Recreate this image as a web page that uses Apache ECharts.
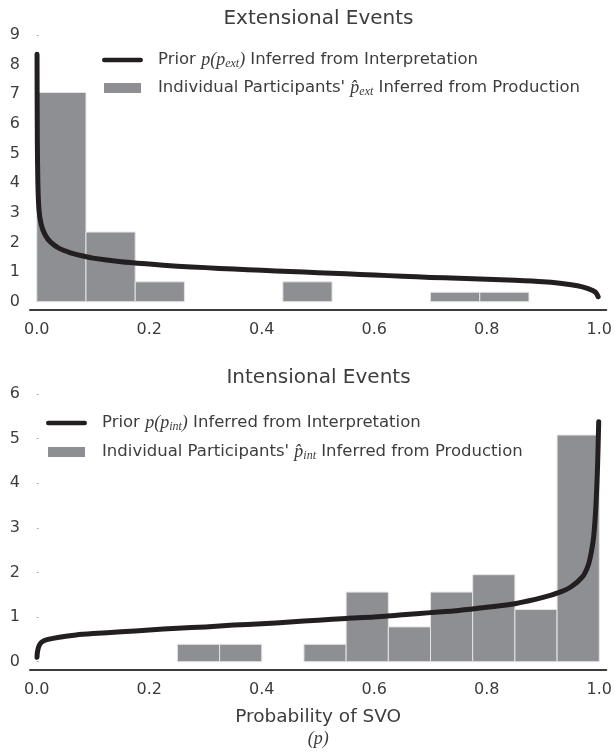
<!DOCTYPE html>
<html>
<head>
<meta charset="utf-8">
<script src="https://cdn.jsdelivr.net/npm/echarts/dist/echarts.min.js"></script>
<style>
  html, body { margin: 0; padding: 0; background: #fff; }
  #chart { width: 615px; height: 754px; }
</style>
</head>
<body>
<div id="chart"></div>
<script>
// ---------- data ----------
const xTicks = [0, 0.2, 0.4, 0.6, 0.8, 1.0];
const topYTicks = [0, 1, 2, 3, 4, 5, 6, 7, 8, 9];
const bottomYTicks = [0, 1, 2, 3, 4, 5, 6];

// Extensional events histogram (bin edges + densities)
const extBinEdges = [0, 0.0875, 0.175, 0.2625, 0.35, 0.4375, 0.525, 0.6125, 0.70, 0.7875, 0.875];
const extDensity  = [7.06, 2.35, 0.67, 0, 0, 0.67, 0, 0, 0.32, 0.32];

// Extensional prior curve (p, density)
const extPriorP = [0.0005, 0.001, 0.002, 0.004, 0.008, 0.015, 0.025, 0.04, 0.06, 0.08, 0.1, 0.15, 0.2, 0.25, 0.3, 0.35, 0.4, 0.45, 0.5, 0.55, 0.6, 0.65, 0.7, 0.75, 0.8, 0.85, 0.9, 0.93, 0.95, 0.97, 0.98, 0.99, 0.995, 0.998];
const extPriorY = [8.35, 5.5, 4.0, 3.1, 2.6, 2.25, 2.0, 1.8, 1.65, 1.55, 1.47, 1.35, 1.27, 1.2, 1.15, 1.1, 1.06, 1.02, 0.98, 0.94, 0.9, 0.86, 0.82, 0.79, 0.76, 0.72, 0.67, 0.62, 0.57, 0.5, 0.44, 0.36, 0.28, 0.17];

// Intensional events histogram
const intBinEdges = [0.25, 0.325, 0.40, 0.475, 0.55, 0.625, 0.70, 0.775, 0.85, 0.925, 1.0];
const intDensity  = [0.39, 0.39, 0, 0.39, 1.56, 0.78, 1.56, 1.95, 1.17, 5.08];

// Intensional prior curve
const intPriorP = [0.0005, 0.001, 0.003, 0.006, 0.01, 0.02, 0.04, 0.07, 0.1, 0.15, 0.2, 0.25, 0.3, 0.35, 0.4, 0.45, 0.5, 0.55, 0.6, 0.65, 0.7, 0.75, 0.8, 0.85, 0.9, 0.93, 0.95, 0.97, 0.98, 0.985, 0.99, 0.994, 0.997, 0.999];
const intPriorY = [0.1, 0.2, 0.32, 0.4, 0.45, 0.5, 0.55, 0.6, 0.63, 0.67, 0.71, 0.75, 0.78, 0.82, 0.85, 0.89, 0.93, 0.97, 1.0, 1.05, 1.1, 1.15, 1.22, 1.3, 1.44, 1.56, 1.68, 1.9, 2.15, 2.4, 2.8, 3.5, 4.4, 5.38];

const titles = ['Extensional Events', 'Intensional Events'];
const priorNames = ['Prior p(p_ext) Inferred from Interpretation', 'Prior p(p_int) Inferred from Interpretation'];
const histNames = ["Individual Participants' p_ext Inferred from Production", "Individual Participants' p_int Inferred from Production"];

// ---------- build ----------
const TEXT = '#3d3d3d';
const BAR = '#8e8f93';
const LINE = '#231f20';
const SANS = 'DejaVu Sans';
const SERIF = 'Liberation Serif';

function binsData(edges, dens) {
  const out = [];
  for (let i = 0; i < dens.length; i++) {
    if (dens[i] > 0) out.push([edges[i], edges[i + 1], dens[i]]);
  }
  return out;
}
function pairs(xs, ys) { return xs.map((x, i) => [x, ys[i]]); }

const fmtX = v => Number(v).toFixed(1);
const fmtY = v => String(Math.round(v));

function xAxis(gridIndex, withName) {
  const ax = {
    type: 'value', gridIndex: gridIndex, min: -0.012, max: 1.0125,
    axisLine: { show: true, onZero: false, lineStyle: { color: '#3c3c3c', width: 2 } },
    axisTick: { show: false },
    splitLine: { show: false },
    axisLabel: { customValues: xTicks, formatter: fmtX, color: TEXT, fontSize: 16, margin: 12, fontFamily: SANS }
  };
  if (withName) {
    ax.name = '{a|Probability of SVO}\n{b|(p)}';
    ax.nameLocation = 'middle';
    ax.nameGap = 36;
    ax.nameTextStyle = {
      color: TEXT,
      rich: {
        a: { fontSize: 18.5, fontFamily: SANS, color: TEXT, lineHeight: 22 },
        b: { fontSize: 18, fontFamily: SERIF, fontStyle: 'italic', color: TEXT, lineHeight: 22 }
      }
    };
  }
  return ax;
}
function yAxis(gridIndex, min, max, ticks) {
  return {
    type: 'value', gridIndex: gridIndex, min: min, max: max,
    axisLine: { show: false },
    axisTick: { show: true, inside: true, length: 2, customValues: ticks, lineStyle: { color: '#b0b0b0', width: 1 } },
    splitLine: { show: false },
    axisLabel: { customValues: ticks, formatter: fmtY, color: TEXT, fontSize: 16, margin: 10, fontFamily: SANS }
  };
}

function histRender(params, api) {
  const x0 = api.value(0), x1 = api.value(1), h = api.value(2);
  const a = api.coord([x0, 0]);
  const b = api.coord([x1, h]);
  return {
    type: 'rect',
    shape: { x: a[0], y: b[1], width: b[0] - a[0], height: a[1] - b[1] },
    style: { fill: BAR, stroke: '#e4e4e4', lineWidth: 1 }
  };
}

const lineIcon = 'path://M2.3,0 L38.7,0 A2.3,2.3 0 0 1 38.7,4.6 L2.3,4.6 A2.3,2.3 0 0 1 2.3,0 Z';
const rectIcon = 'path://M2,0 L39,0 L39,10 L2,10 Z';

function legendRich() {
  return {
    g: { width: 10 },
    t: { fontSize: 16.5, fontFamily: SANS, color: TEXT, lineHeight: 20 },
    m: { fontSize: 18, fontFamily: SERIF, fontStyle: 'italic', color: TEXT, lineHeight: 20 },
    s: { fontSize: 12, fontFamily: SERIF, fontStyle: 'italic', color: TEXT, lineHeight: 8, verticalAlign: 'bottom' }
  };
}
function legendFormatter(name) {
  const sub = name.indexOf('_ext') >= 0 ? 'ext' : 'int';
  if (name.indexOf('Prior') === 0) {
    return '{g|}{t|Prior }{m|p(p}{s|' + sub + '}{m|)}{t| Inferred from Interpretation}';
  }
  return "{g|}{t|Individual Participants' }{m|p\u0302}{s|" + sub + '}{t| Inferred from Production}';
}

const option = {
  backgroundColor: '#ffffff',
  animation: false,
  title: [
    { text: titles[0], left: 318.5, top: 9, padding: 0, textAlign: 'center',
      textStyle: { fontSize: 20, fontWeight: 'normal', color: TEXT, fontFamily: SANS } },
    { text: titles[1], left: 318.5, top: 368, padding: 0, textAlign: 'center',
      textStyle: { fontSize: 20, fontWeight: 'normal', color: TEXT, fontFamily: SANS } }
  ],
  grid: [
    { left: 30, right: 8, top: 35, height: 275 },
    { left: 30, right: 8, top: 394, height: 276 }
  ],
  xAxis: [xAxis(0, false), xAxis(1, true)],
  yAxis: [yAxis(0, -0.28, 9, topYTicks), yAxis(1, -0.186, 6, bottomYTicks)],
  legend: [
    { orient: 'vertical', left: 102, top: 51, padding: 0, itemWidth: 41, itemHeight: 10, itemGap: 9,
      selectedMode: false, formatter: legendFormatter,
      textStyle: { rich: legendRich() },
      data: [ { name: priorNames[0], icon: lineIcon }, { name: histNames[0], icon: rectIcon } ] },
    { orient: 'vertical', left: 46, top: 414, padding: 0, itemWidth: 41, itemHeight: 10, itemGap: 10,
      selectedMode: false, formatter: legendFormatter,
      textStyle: { rich: legendRich() },
      data: [ { name: priorNames[1], icon: lineIcon }, { name: histNames[1], icon: rectIcon } ] }
  ],
  series: [
    { name: histNames[0], type: 'custom', xAxisIndex: 0, yAxisIndex: 0,
      itemStyle: { color: BAR }, renderItem: histRender,
      encode: { x: [0, 1], y: 2 }, data: binsData(extBinEdges, extDensity) },
    { name: priorNames[0], type: 'line', xAxisIndex: 0, yAxisIndex: 0,
      showSymbol: false, symbol: 'none', smooth: 0.25,
      itemStyle: { color: LINE },
      lineStyle: { color: LINE, width: 5, cap: 'round', join: 'round' },
      data: pairs(extPriorP, extPriorY) },
    { name: histNames[1], type: 'custom', xAxisIndex: 1, yAxisIndex: 1,
      itemStyle: { color: BAR }, renderItem: histRender,
      encode: { x: [0, 1], y: 2 }, data: binsData(intBinEdges, intDensity) },
    { name: priorNames[1], type: 'line', xAxisIndex: 1, yAxisIndex: 1,
      showSymbol: false, symbol: 'none', smooth: 0.25,
      itemStyle: { color: LINE },
      lineStyle: { color: LINE, width: 5, cap: 'round', join: 'round' },
      data: pairs(intPriorP, intPriorY) }
  ]
};

const chart = echarts.init(document.getElementById('chart'), null, { renderer: 'canvas' });
chart.setOption(option);
</script>
</body>
</html>
